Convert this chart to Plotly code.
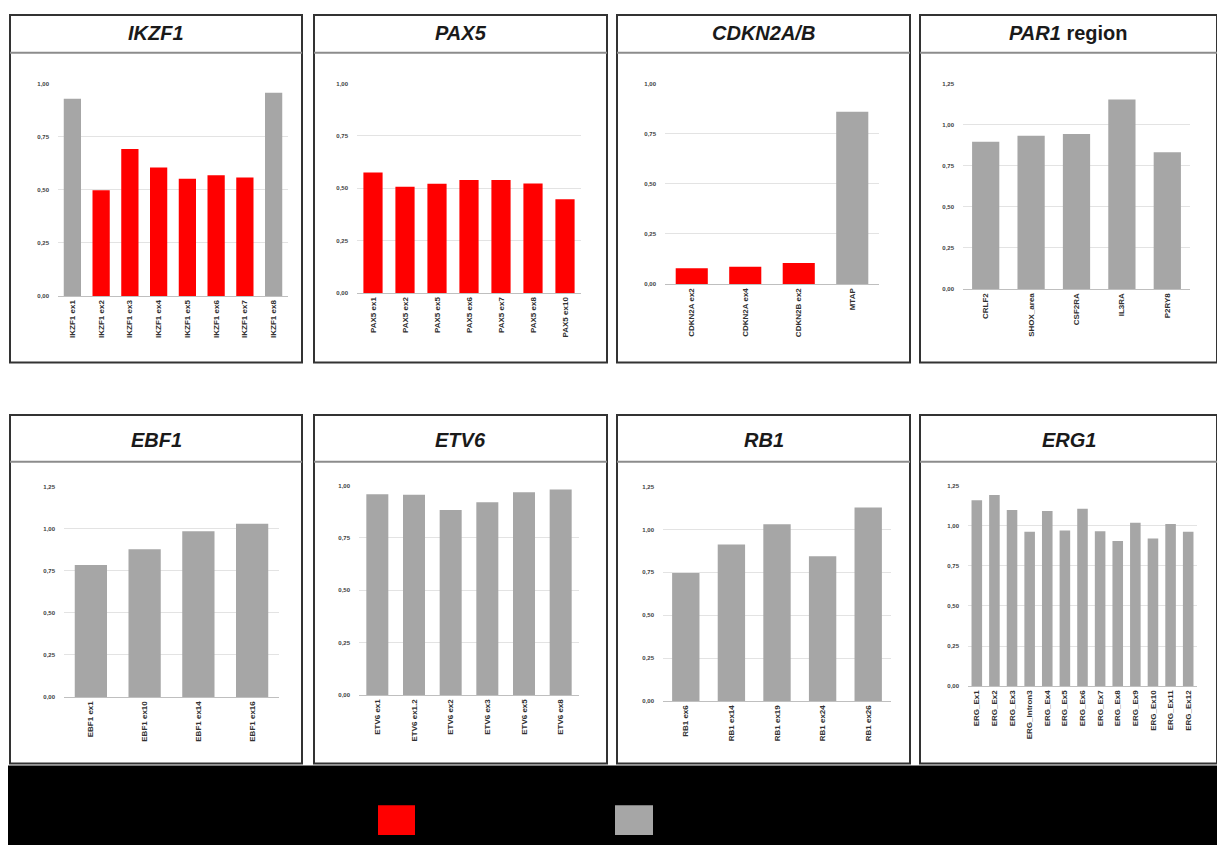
import plotly.graph_objects as go

# page offset (browser body margin) compensation
OFF = 8
W, H = 1225 - OFF, 848 - OFF

# ---------------- data ----------------
ikzf1_labels = ["IKZF1 ex1", "IKZF1 ex2", "IKZF1 ex3", "IKZF1 ex4",
                "IKZF1 ex5", "IKZF1 ex6", "IKZF1 ex7", "IKZF1 ex8"]
ikzf1_values = [0.928, 0.498, 0.692, 0.605, 0.552, 0.568, 0.558, 0.956]
ikzf1_deleted = [0, 1, 1, 1, 1, 1, 1, 0]

pax5_labels = ["PAX5 ex1", "PAX5 ex2", "PAX5 ex5", "PAX5 ex6",
               "PAX5 ex7", "PAX5 ex8", "PAX5 ex10"]
pax5_values = [0.575, 0.507, 0.521, 0.539, 0.539, 0.523, 0.447]
pax5_deleted = [1, 1, 1, 1, 1, 1, 1]

cdkn_labels = ["CDKN2A ex2", "CDKN2A ex4", "CDKN2B ex2", "MTAP"]
cdkn_values = [0.079, 0.086, 0.105, 0.859]
cdkn_deleted = [1, 1, 1, 0]

par1_labels = ["CRLF2", "SHOX_area", "CSF2RA", "IL3RA", "P2RY8"]
par1_values = [0.896, 0.932, 0.942, 1.153, 0.831]
par1_deleted = [0, 0, 0, 0, 0]

ebf1_labels = ["EBF1 ex1", "EBF1 ex10", "EBF1 ex14", "EBF1 ex16"]
ebf1_values = [0.784, 0.878, 0.985, 1.029]
ebf1_deleted = [0, 0, 0, 0]

etv6_labels = ["ETV6 ex1", "ETV6 ex1.2", "ETV6 ex2", "ETV6 ex3", "ETV6 ex5", "ETV6 ex8"]
etv6_values = [0.959, 0.956, 0.883, 0.921, 0.968, 0.981]
etv6_deleted = [0, 0, 0, 0, 0, 0]

rb1_labels = ["RB1 ex6", "RB1 ex14", "RB1 ex19", "RB1 ex24", "RB1 ex26"]
rb1_values = [0.747, 0.913, 1.031, 0.844, 1.128]
rb1_deleted = [0, 0, 0, 0, 0]

erg_labels = ["ERG_Ex1", "ERG_Ex2", "ERG_Ex3", "ERG_Intron3", "ERG_Ex4", "ERG_Ex5",
              "ERG_Ex6", "ERG_Ex7", "ERG_Ex8", "ERG_Ex9", "ERG_Ex10", "ERG_Ex11", "ERG_Ex12"]
erg_values = [1.159, 1.192, 1.098, 0.962, 1.091, 0.970, 1.106, 0.966,
              0.904, 1.019, 0.921, 1.011, 0.962]
erg_deleted = [0] * 13

titles = ["<b><i>IKZF1</i></b>", "<b><i>PAX5</i></b>", "<b><i>CDKN2A/B</i></b>",
          "<b><i>PAR1</i> region</b>", "<b><i>EBF1</i></b>", "<b><i>ETV6</i></b>",
          "<b><i>RB1</i></b>", "<b><i>ERG1</i></b>"]

# ---------------- styling / layout ----------------
RED = "#FF0000"
GREY = "#A6A6A6"

panels = [
    (ikzf1_labels, ikzf1_values, ikzf1_deleted),
    (pax5_labels, pax5_values, pax5_deleted),
    (cdkn_labels, cdkn_values, cdkn_deleted),
    (par1_labels, par1_values, par1_deleted),
    (ebf1_labels, ebf1_values, ebf1_deleted),
    (etv6_labels, etv6_values, etv6_deleted),
    (rb1_labels, rb1_values, rb1_deleted),
    (erg_labels, erg_values, erg_deleted),
]

# plot areas in page pixels: (x0, x1, y_top, y_bottom, ymax)
areas = [
    (58, 288, 81, 295, 1.0),
    (357, 581, 81, 292, 1.0),
    (665, 879, 81, 283, 1.0),
    (963, 1190, 81, 288, 1.25),
    (64, 279, 487, 699, 1.25),
    (359, 579, 486, 697, 1.0),
    (663, 891, 487, 703, 1.25),
    (968, 1197, 486, 688, 1.25),
]

# panel frames (x0, x1) and rows (y0, y1, header line y, title centre y), page pixels
col_x = [(10, 302), (314, 607), (617, 910), (920, 1217)]
rows = [(12, 362, 50, 30), (415, 766, 462, 440)]


def px(x):
    return (x - OFF) / W


def py(y):
    return 1 - (y - OFF) / H


fig = go.Figure()
layout = dict(
    width=W, height=H,
    margin=dict(l=0, r=0, t=0, b=0),
    paper_bgcolor="white", plot_bgcolor="white",
    showlegend=False, separators=",.",
    bargap=0.4,
    font=dict(family="Liberation Sans, Arial, sans-serif"),
)

for i, ((labels, values, deleted), (x0, x1, yt, yb, ymax)) in enumerate(zip(panels, areas), start=1):
    colors = [RED if d else GREY for d in deleted]
    sfx = "" if i == 1 else str(i)
    fig.add_trace(go.Bar(x=labels, y=values, marker=dict(color=colors, line=dict(width=0)),
                         xaxis="x" + sfx, yaxis="y" + sfx, hoverinfo="x+y"))
    layout["xaxis" + sfx] = dict(
        domain=[px(x0), px(x1)], anchor="y" + sfx,
        tickangle=-90, tickfont=dict(size=8, color="#303030", weight="bold"),
        showline=True, linecolor="#BFBFBF", linewidth=1,
        showgrid=False, ticks="", fixedrange=True,
    )
    layout["yaxis" + sfx] = dict(
        domain=[py(yb), py(yt)], anchor="x" + sfx,
        range=[0, ymax], dtick=0.25, tick0=0, tickformat=".2f",
        tickfont=dict(size=6, color="#404040", weight="bold"),
        showgrid=True, gridcolor="#E3E3E3", gridwidth=1,
        zeroline=False, showline=False, ticks="", fixedrange=True,
        ticklabelstandoff=8,
    )

shapes = []
annotations = []
# black band at the bottom
shapes.append(dict(type="rect", xref="paper", yref="paper",
                   x0=0, x1=1, y0=0, y1=py(768),
                   fillcolor="black", line=dict(width=0), layer="below"))
# legend swatches
shapes.append(dict(type="rect", xref="paper", yref="paper",
                   x0=px(378), x1=px(415), y0=py(838), y1=py(808),
                   fillcolor=RED, line=dict(width=0)))
shapes.append(dict(type="rect", xref="paper", yref="paper",
                   x0=px(615), x1=px(653), y0=py(838), y1=py(808),
                   fillcolor=GREY, line=dict(width=0)))

k = 0
for (ry0, ry1, hy, ty) in rows:
    for (cx0, cx1) in col_x:
        shapes.append(dict(type="rect", xref="paper", yref="paper",
                           x0=px(cx0), x1=px(cx1), y0=py(ry1), y1=py(ry0),
                           line=dict(color="#333333", width=2), fillcolor="rgba(0,0,0,0)"))
        shapes.append(dict(type="line", xref="paper", yref="paper",
                           x0=px(cx0), x1=px(cx1), y0=py(hy), y1=py(hy),
                           line=dict(color="#8C8C8C", width=2)))
        annotations.append(dict(text=titles[k], xref="paper", yref="paper",
                                x=px((cx0 + cx1) / 2), y=py(ty),
                                xanchor="center", yanchor="middle", showarrow=False,
                                font=dict(size=20, color="#1A1A1A",
                                          family="Liberation Sans, Arial, sans-serif")))
        k += 1

layout["shapes"] = shapes
layout["annotations"] = annotations
fig.update_layout(**layout)
fig.write_html("out.html")
